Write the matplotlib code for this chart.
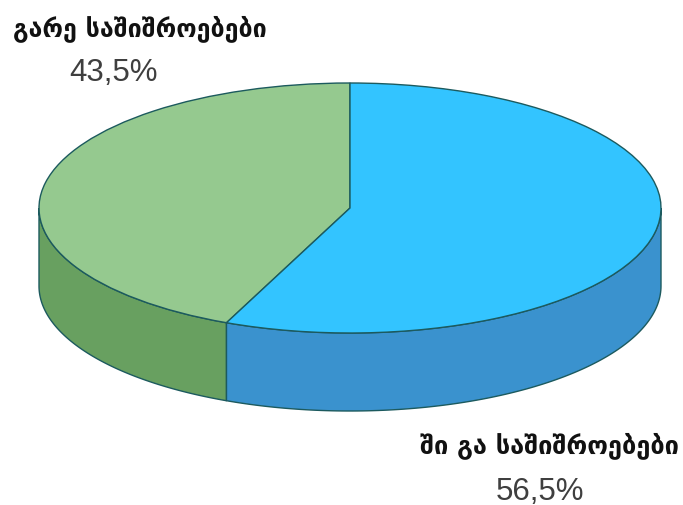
import numpy as np
import matplotlib
matplotlib.use("Agg")
import matplotlib.pyplot as plt
from matplotlib.patches import Wedge, Polygon
from matplotlib.transforms import Affine2D

# slices run counterclockwise from the top of the disc
labels = ["გარე საშიშროებები", "ში გა საშიშროებები"]
values = [43.5, 56.5]
value_labels = ["43,5%", "56,5%"]
top_colors = ["#95C98F", "#33C4FF"]
side_colors = ["#68A060", "#3A92CE"]
edge_color = "#1C5A5E"

cx, cy = 350, 209
rx, ry = 311, 125
depth = 78
start_angle = 90


def point(angle):
    rad = np.radians(angle)
    return cx + rx * np.cos(rad), cy + ry * np.sin(rad) * -1


fig = plt.figure(figsize=(6.83, 5.06), dpi=100)
ax = fig.add_axes([0, 0, 1, 1])
ax.set_xlim(0, 683)
ax.set_ylim(506, 0)
ax.axis("off")

disc = Affine2D().scale(rx, -ry).translate(cx, cy) + ax.transData

angle = start_angle
for value, top, side in zip(values, top_colors, side_colors):
    sweep = value / sum(values) * 360
    end = angle + sweep

    # rim is only visible on the front half of the disc
    lo, hi = max(angle, 180), min(end, 360)
    if hi > lo:
        t = np.linspace(lo, hi, 120)
        x, y = point(t)
        rim = np.vstack([np.column_stack([x, y]),
                         np.column_stack([x, y + depth])[::-1]])
        ax.add_patch(Polygon(rim, closed=True, facecolor=side,
                             edgecolor=edge_color, linewidth=1.0, zorder=2))

    ax.add_patch(Wedge((0, 0), 1, angle, end, facecolor=top,
                       edgecolor=edge_color, linewidth=1.0,
                       transform=disc, zorder=3))
    angle = end

# labels
ax.text(13, 29, labels[0], family="DejaVu Sans", fontweight="bold", fontsize=18,
        color="#111111", ha="left", va="center")
ax.text(113, 73, value_labels[0], family="Liberation Sans", fontsize=22.5,
        color="#3F3F3F", ha="center", va="center")
ax.text(420, 446, labels[1], family="DejaVu Sans", fontweight="bold", fontsize=18.3,
        color="#111111", ha="left", va="center")
ax.text(540, 492, value_labels[1], family="Liberation Sans", fontsize=22.5,
        color="#3F3F3F", ha="center", va="center")

fig.savefig("out.png", dpi=100)
